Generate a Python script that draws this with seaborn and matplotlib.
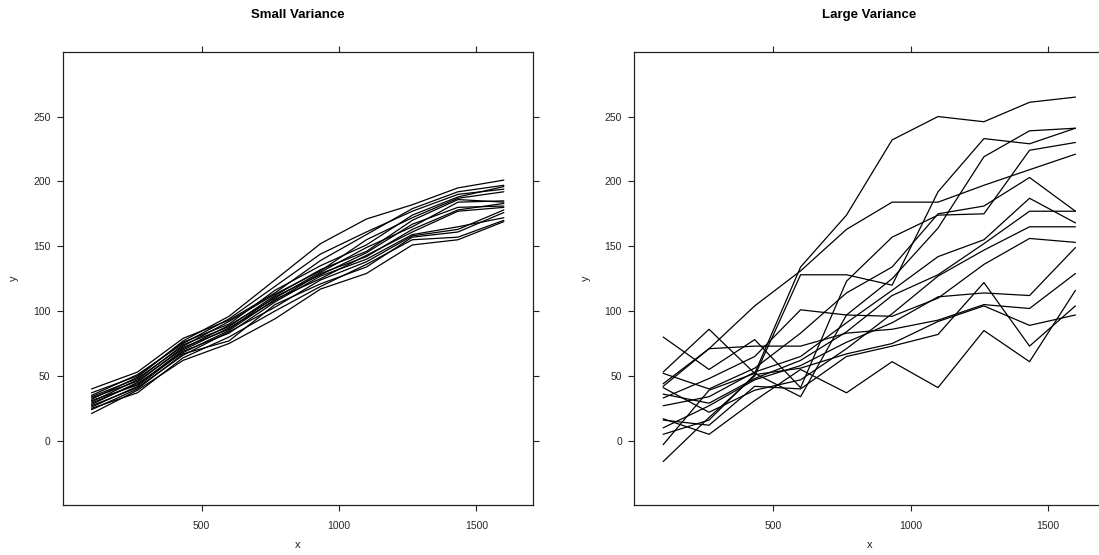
import numpy as np
import pandas as pd
import matplotlib
matplotlib.use("Agg")
import matplotlib.pyplot as plt
import seaborn as sns

sns.set_theme(style="white")
plt.rcParams['font.family'] = ['Liberation Sans', 'DejaVu Sans']

# ---- data ----
x_values = [100, 267, 433, 600, 767, 933, 1100, 1267, 1433, 1600]

small_variance = [
    [32, 49, 77, 96, 124, 152, 171, 182, 195, 201],
    [40, 53, 79, 93, 114, 139, 159, 179, 192, 197],
    [35, 51, 75, 94, 119, 144, 161, 177, 190, 194],
    [37, 50, 76, 90, 116, 135, 151, 174, 188, 196],
    [34, 48, 73, 92, 113, 131, 155, 172, 187, 192],
    [30, 47, 74, 88, 112, 132, 146, 170, 186, 184],
    [33, 46, 71, 89, 110, 130, 149, 165, 184, 185],
    [28, 45, 72, 86, 111, 128, 145, 167, 180, 181],
    [31, 43, 70, 87, 108, 129, 142, 163, 178, 183],
    [29, 44, 68, 85, 109, 125, 143, 161, 177, 180],
    [26, 42, 69, 83, 107, 127, 140, 159, 165, 172],
    [27, 41, 66, 84, 103, 124, 138, 158, 163, 178],
    [24, 40, 67, 77, 105, 121, 134, 157, 161, 176],
    [25, 37, 64, 80, 100, 119, 136, 155, 157, 170],
    [21, 39, 62, 75, 94, 117, 129, 151, 155, 169],
]

large_variance = [
    [-3, 39, 52, 134, 174, 232, 250, 246, 261, 265],
    [53, 86, 52, 34, 97, 125, 164, 219, 239, 241],
    [-16, 18, 50, 128, 128, 120, 192, 233, 229, 241],
    [80, 55, 78, 41, 123, 157, 174, 175, 224, 230],
    [42, 71, 104, 131, 163, 184, 184, 197, 209, 221],
    [52, 40, 56, 83, 114, 134, 175, 181, 203, 177],
    [27, 34, 53, 65, 91, 116, 142, 155, 187, 168],
    [36, 29, 48, 62, 84, 112, 128, 152, 177, 177],
    [41, 22, 39, 47, 71, 98, 127, 147, 165, 165],
    [33, 48, 65, 101, 97, 96, 110, 136, 156, 153],
    [10, 27, 47, 58, 76, 91, 111, 114, 112, 149],
    [44, 71, 73, 73, 83, 86, 93, 105, 102, 129],
    [5, 16, 51, 56, 67, 75, 92, 104, 89, 97],
    [16, 12, 42, 40, 65, 73, 82, 122, 73, 104],
    [17, 5, 31, 55, 37, 61, 41, 85, 61, 116],
]

panel_titles = ["Small Variance", "Large Variance"]
x_ticks = [500, 1000, 1500]
y_ticks = [0, 50, 100, 150, 200, 250]


def to_long(series):
    rows = []
    for i, ys in enumerate(series):
        for xv, yv in zip(x_values, ys):
            rows.append({"id": i, "x": xv, "y": yv})
    return pd.DataFrame(rows)


W, H = 1099, 555
fig = plt.figure(figsize=(W / 100, H / 100), dpi=100)
fig.patch.set_facecolor("white")

box_w = 470
box_top, box_bot = 51.7, 505
panel_lefts = [62.7, 634.3]

for k, (series, title) in enumerate(zip([small_variance, large_variance], panel_titles)):
    left = panel_lefts[k]
    ax = fig.add_axes([left / W, (H - box_bot) / H, box_w / W, (box_bot - box_top) / H])
    df = to_long(series)
    sns.lineplot(data=df, x="x", y="y", units="id", estimator=None,
                 color="black", lw=0.9, ax=ax, legend=False)
    ax.set_xlim(-5, 1705)
    ax.set_ylim(-49.5, 300)
    ax.set_xticks(x_ticks)
    ax.set_yticks(y_ticks)
    ax.set_xlabel("")
    ax.set_ylabel("")
    ax.set_facecolor("white")
    for s in ax.spines.values():
        s.set_visible(True)
        s.set_color("#222222")
        s.set_linewidth(0.9)
    ax.tick_params(axis="both", which="both", direction="out", length=4.3,
                   width=0.8, color="#222222", labelsize=7.5, pad=4.5,
                   top=True, right=True, bottom=True, left=True,
                   labeltop=False, labelright=False, labelbottom=True, labelleft=True)
    ax.tick_params(axis="x", pad=7)
    ax.grid(False)

    cx = (left + box_w / 2) / W
    fig.text(cx, 1 - 15 / H, title, ha="center", va="center",
             fontsize=9.5, fontweight="bold", color="black")
    fig.text(cx, 1 - 545 / H, "x", ha="center", va="center", fontsize=8, color="#222222")
    fig.text((left - 48.5) / W, 1 - 278 / H, "y", ha="center", va="center",
             rotation=90, fontsize=8, color="#222222")

fig.savefig("out.png", dpi=100, facecolor="white")
